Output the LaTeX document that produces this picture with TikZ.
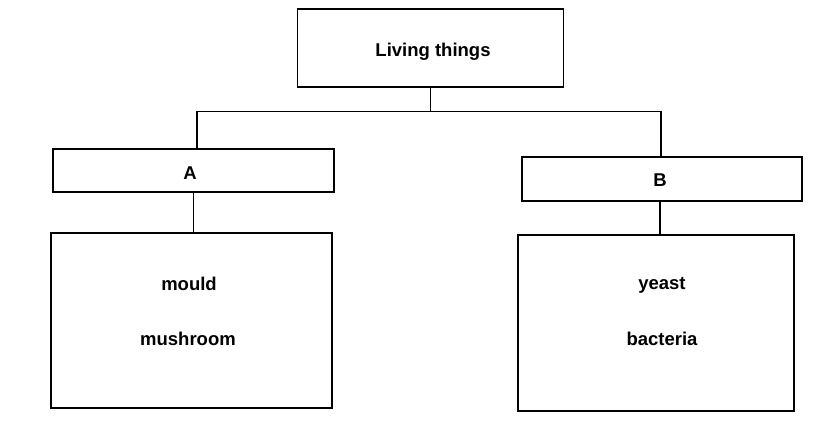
\documentclass[tikz,border=0pt]{standalone}
\usepackage{fontspec}
\setmainfont{Liberation Sans}
\begin{document}
\begin{tikzpicture}[x=1pt,y=-1pt,
  box/.style={draw=black,line width=1.3pt,rectangle,inner sep=0pt},
  lbl/.style={font=\bfseries\fontsize{18.5}{22}\selectfont,inner sep=0pt,anchor=center},
  conn/.style={draw=black,line width=1.3pt}]
\useasboundingbox[fill=white] (0,0) rectangle (815,445);
\node[box,minimum width=266pt,minimum height=78pt] (top) at (430.5,48) {};
\node[box,minimum width=281pt,minimum height=43pt] (A) at (193.5,170.5) {};
\node[box,minimum width=280pt,minimum height=44pt] (B) at (662,179) {};
\node[box,minimum width=281pt,minimum height=175pt] (L) at (191.5,320.5) {};
\node[box,minimum width=276pt,minimum height=176pt] (R) at (656,323) {};
\node[lbl] (tt) at (433,51.5) {Living things};
\node[lbl] (ta) at (190,173) {A};
\node[lbl] (tb) at (660,180) {B};
\node[lbl] (t1) at (189,284) {mould};
\node[lbl] (t2) at (188,339) {mushroom};
\node[lbl] (t3) at (662,285) {yeast};
\node[lbl] (t4) at (662,339) {bacteria};
\coordinate (bl) at (197,111.7);
\coordinate (br) at (661,111.7);
\coordinate (bs) at (660,201);
\draw[conn] (top.south) -- (top.south |- bl);
\draw[conn] (bl |- A.north) -- (bl) -- (br) -- (br |- B.north);
\draw[conn] (A.south) -- (A.south |- L.north);
\draw[conn] (bs |- B.south) -- (bs |- R.north);
\end{tikzpicture}
\end{document}
